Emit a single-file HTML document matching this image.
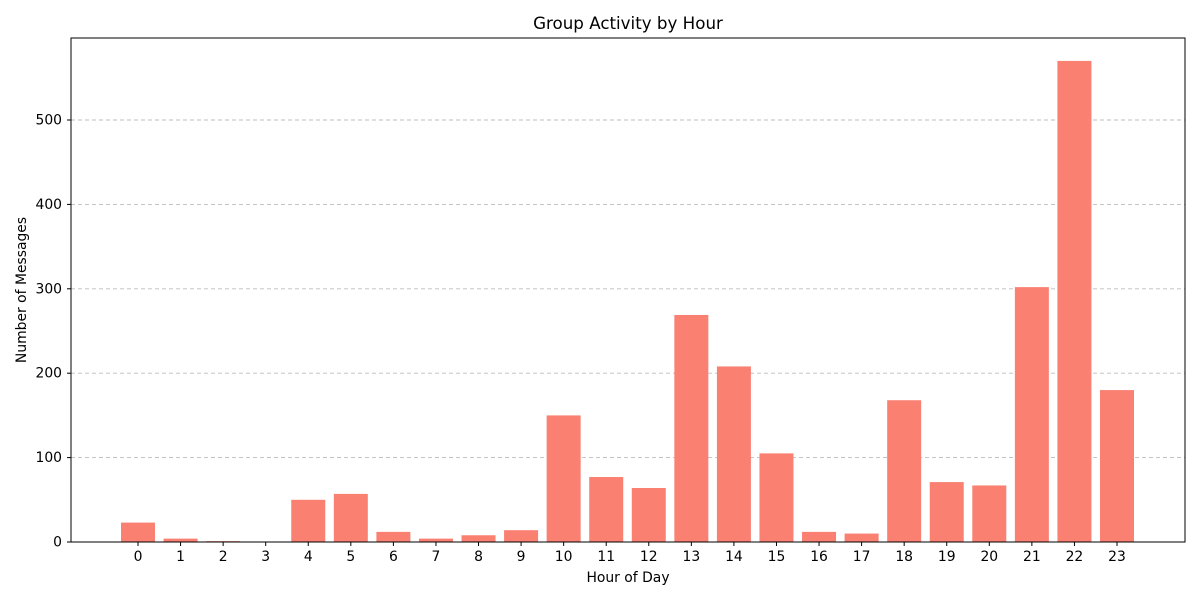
<!DOCTYPE html>
<html><head><meta charset="utf-8"><style>
body{margin:0;background:#fff;font-family:"DejaVu Sans","Liberation Sans",sans-serif}
svg text{font-family:"DejaVu Sans","Liberation Sans",sans-serif}
</style></head><body>
<svg id="chart" width="1200" height="600" xmlns="http://www.w3.org/2000/svg">
<rect width="1200" height="600" fill="#fff"/>
<text x="628" y="29" text-anchor="middle" font-size="16.7">Group Activity by Hour</text>
<g id="grid"></g><g id="bars"></g><g id="ticks"></g>
<rect x="71" y="38" width="1114" height="504" fill="none" stroke="#000" stroke-width="1"/>
<text x="628" y="582" text-anchor="middle" font-size="13.9">Hour of Day</text>
<text transform="translate(26,290) rotate(-90)" text-anchor="middle" font-size="13.9">Number of Messages</text>
</svg>
<script>
const hours=[0,1,2,3,4,5,6,7,8,9,10,11,12,13,14,15,16,17,18,19,20,21,22,23];
const counts=[23,4,1,0,50,57,12,4,8,14,150,77,64,269,208,105,12,10,168,71,67,302,570,180];
const yTicks=[0,100,200,300,400,500];
const NS="http://www.w3.org/2000/svg";
const y=v=>542-v*0.844;
const x=i=>138+i*42.565;
const bw=34;
function mk(t,a,p){const e=document.createElementNS(NS,t);for(const k in a)e.setAttribute(k,a[k]);p.appendChild(e);return e;}
const grid=document.getElementById('grid'),bars=document.getElementById('bars'),ticks=document.getElementById('ticks');
yTicks.forEach(v=>{
 if(v>0){const g=mk('line',{x1:71,x2:1185,y1:y(v),y2:y(v),stroke:'#bdbdbd','stroke-dasharray':'4,3','stroke-width':0.9},grid);
 
 }
 const t=mk('line',{x1:67,x2:71,y1:y(v),y2:y(v),stroke:'#000'},ticks);
 
 
 const l=mk('text',{x:62,y:y(v)+4.5,'text-anchor':'end','font-size':13.9},ticks);l.textContent=v;
 
 
});
hours.forEach((h,i)=>{
 const b=mk('rect',{x:x(i)-bw/2,y:y(counts[i]),width:bw,height:counts[i]*0.844,fill:'#fa8072'},bars);
 
 
 const t=mk('line',{x1:x(i),x2:x(i),y1:542,y2:546,stroke:'#000'},ticks);
 
 
 const l=mk('text',{x:x(i),y:561,'text-anchor':'middle','font-size':13.9},ticks);l.textContent=h;
 
 
});
</script>
</body></html>
